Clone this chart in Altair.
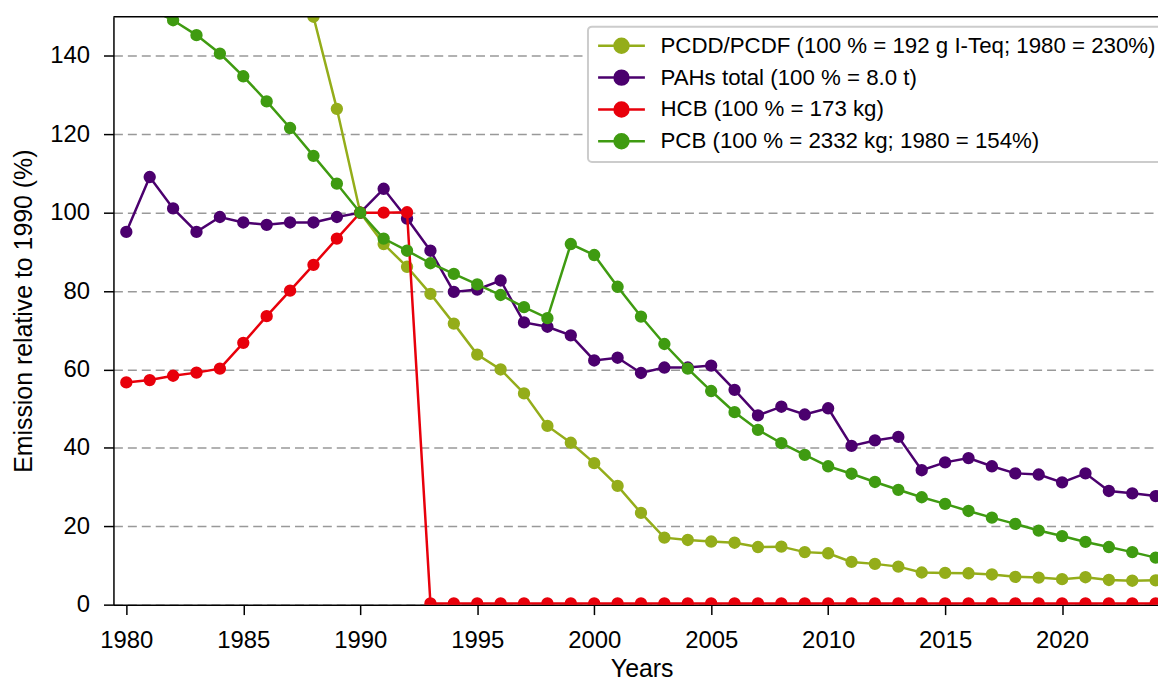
import altair as alt
import pandas as pd

years = list(range(1980, 2025))

L_PCDD = "PCDD/PCDF (100 % = 192 g I-Teq; 1980 = 230%)"
L_PAH = "PAHs total (100 % = 8.0 t)"
L_HCB = "HCB (100 % = 173 kg)"
L_PCB = "PCB (100 % = 2332 kg; 1980 = 154%)"

labels = [L_PCDD, L_PAH, L_HCB, L_PCB]
colors = ["#94ad1a", "#4b006e", "#e8000b", "#3f9b11"]

# values per year 1980..2024 (None = not readable / off chart)
pcdd = [230, None, None, None, None, None, None, None, 150, 126.5,
        100, 92.0, 86.2, 79.3, 71.7, 63.8, 60.0, 53.9, 45.6, 41.3,
        36.1, 30.3, 23.4, 17.1, 16.5, 16.1, 15.8, 14.7, 14.8, 13.4,
        13.1, 10.9, 10.4, 9.7, 8.2, 8.1, 8.0, 7.7, 7.1, 6.9,
        6.5, 7.0, 6.3, 6.1, 6.2]
pah = [95.1, 109.1, 101.1, 95.1, 98.9, 97.5, 96.9, 97.5, 97.5, 98.9,
       100, 106.1, 98.5, 90.3, 79.8, 80.4, 82.7, 72.0, 70.9, 68.7,
       62.3, 63.0, 59.1, 60.5, 60.5, 61.0, 54.8, 48.3, 50.5, 48.5,
       50.1, 40.5, 41.9, 42.8, 34.3, 36.3, 37.4, 35.3, 33.5, 33.2,
       31.2, 33.5, 29.0, 28.4, 27.7]
hcb = [56.7, 57.3, 58.4, 59.2, 60.2, 66.8, 73.6, 80.1, 86.7, 93.4,
       100, 100, 100.1, 0.3, 0.3, 0.3, 0.3, 0.3, 0.3, 0.3,
       0.3, 0.3, 0.3, 0.3, 0.3, 0.3, 0.3, 0.3, 0.3, 0.3,
       0.3, 0.3, 0.3, 0.3, 0.3, 0.3, 0.3, 0.3, 0.3, 0.3,
       0.3, 0.3, 0.3, 0.3, 0.3]
pcb = [154, 152, 149.1, 145.3, 140.6, 134.8, 128.4, 121.6, 114.5, 107.4,
       100, 93.4, 90.3, 87.1, 84.4, 81.7, 79.0, 75.9, 73.1, 92.0,
       89.2, 81.1, 73.5, 66.5, 60.2, 54.5, 49.1, 44.6, 41.2, 38.2,
       35.3, 33.4, 31.3, 29.3, 27.4, 25.7, 23.9, 22.2, 20.6, 18.9,
       17.5, 16.0, 14.7, 13.4, 12.0]

x_ticks = [1980, 1985, 1990, 1995, 2000, 2005, 2010, 2015, 2020]
y_ticks = [0, 20, 40, 60, 80, 100, 120, 140]

rows = []
for lab, vals in zip(labels, [pcdd, pah, hcb, pcb]):
    for yr, v in zip(years, vals):
        if v is not None:
            rows.append({"year": yr, "value": v, "series": lab})
df = pd.DataFrame(rows)

FONT = "Liberation Sans"
# line with a circle marker (unit = sqrt(size)/2 px)
SYMBOL = "M-3.36,0L3.36,0M1,0A1,1,0,1,1,-1,0A1,1,0,1,1,1,0Z"

x_enc = alt.X("year:Q",
              scale=alt.Scale(domain=[1979.45, 2024.1], nice=False, zero=False),
              axis=alt.Axis(values=x_ticks, format="d", title="Years", grid=False,
                            labelPadding=14, titleX=531, titleY=72,
                            titleBaseline="alphabetic"))
y_enc = alt.Y("value:Q",
              scale=alt.Scale(domain=[0, 150], nice=False),
              axis=alt.Axis(values=y_ticks, title="Emission relative to 1990 (%)",
                            grid=True, gridDash=[9, 5], gridColor="#999999",
                            gridWidth=1.5, labelPadding=14, titlePadding=13))
color_enc = alt.Color(
    "series:N",
    scale=alt.Scale(domain=labels, range=colors),
    sort=labels,
    legend=alt.Legend(
        title=None, orient="none", legendX=477, legendY=10,
        symbolType=SYMBOL, symbolSize=196, symbolStrokeWidth=2.5,
        symbolOffset=14.5,
        symbolOpacity=1, labelFontSize=22.4, labelFont=FONT, labelColor="black",
        labelLimit=0, labelOffset=28, rowPadding=7, padding=8,
        strokeColor="#cccccc", fillColor="white", cornerRadius=4,
    ),
)

base = alt.Chart(df).encode(x=x_enc, y=y_enc, color=color_enc)

layers = []
for lab in labels:
    sub = base.transform_filter(alt.datum.series == lab)
    layers.append(sub.mark_line(strokeWidth=2.5, clip=True))
    layers.append(sub.mark_point(filled=True, size=154, opacity=1, clip=True))

top = alt.Chart(pd.DataFrame({"v": [150]})).mark_rule(
    color="black", strokeWidth=1.5).encode(y=alt.Y("v:Q"))

chart = alt.layer(*layers, top).properties(
    width=1050, height=591,
    padding={"left": 106, "top": 7, "right": 0, "bottom": 76},
    autosize=alt.AutoSizeParams(type="none"),
).configure_view(stroke=None).configure_axis(
    labelFont=FONT, labelFontSize=24, labelColor="black",
    titleFont=FONT, titleFontSize=25, titleFontWeight="normal", titleColor="black",
    domainColor="black", domainWidth=1.5, tickColor="black", tickWidth=1.5, tickSize=10,
).configure_legend(strokeWidth=2)

chart.save("out.html", embed_options={"renderer": "svg", "actions": False})
